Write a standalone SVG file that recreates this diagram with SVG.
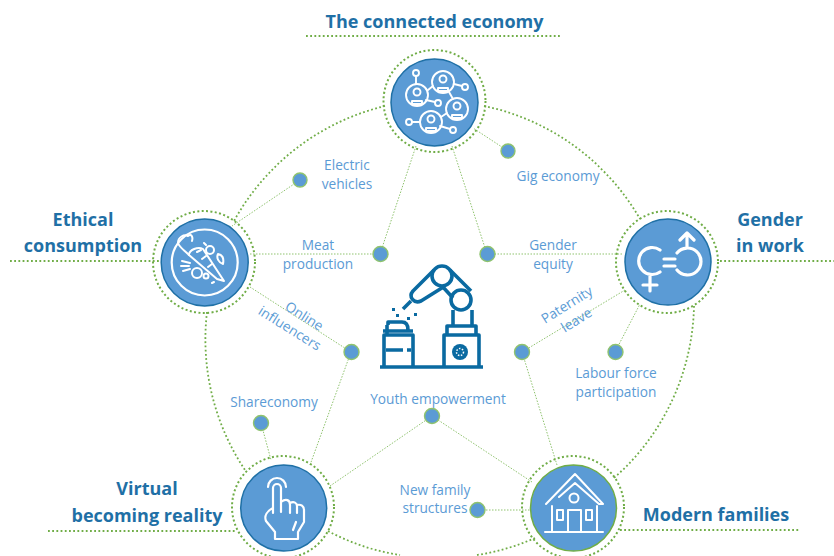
<svg xmlns="http://www.w3.org/2000/svg" width="834" height="556" viewBox="0 0 834 556">
<style>
.t{font-family:"Open Sans",Lato,sans-serif;font-weight:700;font-size:18px;fill:#1f70a6;text-anchor:middle}
.l{font-family:"Open Sans",Lato,sans-serif;font-size:13.700px;fill:#5b9bd5;text-anchor:middle}
.c{fill:none;stroke:#8fc36e;stroke-width:1;stroke-dasharray:1.500 1.500}
.o{fill:none;stroke:#70ad47;stroke-width:1.800;stroke-dasharray:1.800 2.400}
.ring{fill:none;stroke:#70ad47;stroke-width:2;stroke-dasharray:2 2.400}
.b{fill:#5b9bd5;stroke:#1f70a6;stroke-width:1.500}
.d{fill:#5b9bd5;stroke:#8fc36e;stroke-width:1.400}
.i{fill:none;stroke:#fff;stroke-linecap:round;stroke-linejoin:round}
.r{fill:none;stroke:#0a6aa1;stroke-width:3.600;stroke-linejoin:round}
</style>
<g id="connectors">
<path class="o" d="M306 36H562M10 261H160M720 261H834M48 531H235M620 530H800"/>
<path class="o" d="M385 106A235 235 0 0 0 234 221M484 106A235 235 0 0 1 640 219M207 312A235 235 0 0 0 245 470M694 306A235 235 0 0 1 614 478M328 531A224 224 0 0 0 400 555M477 555A224 224 0 0 0 535 538"/>
<path class="c" d="M416 146L380 254M452 146L487 254M250 254H380M622 254H487M250 287L351 352M625 290L522 352M310 465L351 352M557 465L522 352M330 486L432 416M532 482L432 416M300 180L232 226M508 151L473 128M261 423L271 460M615 352L640 304M477 510H530"/>
</g>
<g id="node-economy">
<circle class="ring" cx="434.500" cy="101" r="51"/><circle class="b" cx="434.500" cy="102.500" r="43.500"/>
<g class="i" style="stroke-width:1.900">
<circle cx="417" cy="95" r="11"/><circle cx="443" cy="82" r="11"/><circle cx="457" cy="109" r="11"/><circle cx="431" cy="122" r="11"/>
<circle cx="417" cy="92" r="3.500"/><circle cx="443" cy="79" r="3.500"/><circle cx="457" cy="106" r="3.500"/><circle cx="431" cy="119" r="3.500"/>
<path d="M412 101h10v3h-10zM438 88h10v3h-10zM452 115h10v3h-10zM426 128h10v3h-10z"/>
<circle cx="416" cy="73" r="3"/><circle cx="465" cy="87" r="3"/><circle cx="438" cy="103" r="3"/><circle cx="409" cy="122" r="3"/><circle cx="453" cy="130" r="3"/>
<path d="M416 76V84M454 84L462 86M426 100L435 102M412 122H420M440 126L450 129M428 90L433 86M449 92L453 99M441 117L447 113"/>
</g></g>
<g id="node-ethical">
<circle class="ring" cx="204" cy="262" r="51"/><circle class="b" cx="204.700" cy="262.500" r="43.500"/>
<circle class="i" style="stroke-width:2.200" cx="204.700" cy="262.500" r="33"/>
<g class="i" style="stroke-width:2"><path d="M189 255C189 250 198 246 203 249L224 281L217 279Z"/><path d="M189 255C184 250 180 248 178 243C178 237 184 234 188 236C192 233 193 238 192 241"/><path d="M197 252L201 250M202 259L206 256M208 267L212 264"/><circle cx="210" cy="250" r="4"/><circle cx="197" cy="273" r="5"/><circle cx="206" cy="276" r="2.500"/><path d="M218 254c5 1 6 5 5 10c-4-1-7-6-5-10ZM182 261l8 2M181 266l8 0M183 271l7-2M204 243l2 2M212 283l2-1"/></g>
</g>
<g id="node-gender">
<circle class="ring" cx="667" cy="262" r="51"/><circle class="b" cx="668" cy="262" r="43"/>
<g class="i" style="stroke-width:3.200"><path d="M660 250A13.500 13.500 0 1 0 660 272M650 275V291M643 285H657M664 259H675M664 266H675M677 253A13.500 13.500 0 1 1 677 270M687 248V234M680 240L687 233L694 240"/></g>
</g>
<g id="node-virtual">
<circle class="ring" cx="283" cy="507" r="51"/><circle class="b" cx="283.700" cy="508" r="43"/>
<g class="i" style="stroke-width:2.200"><path d="M268 487A9 9 0 0 1 286 487M273 513V488A4 4 0 0 1 281 488V512M281 502C286 498 290 500 290 505V513M290 503C294 501 297 503 297 506V513M297 505C301 504 304 506 304 510V522L298 532V539H275V532L266 521C264 516 267 511 273 508"/><path d="M296 522L293 530"/></g>
</g>
<g id="node-families">
<circle class="ring" cx="573" cy="507" r="51"/><circle class="b" style="stroke:#70ad47" cx="573.500" cy="508" r="43"/>
<g class="i" style="stroke-width:2"><path d="M546 504L575 474L603 504H599L575 483L559 497M552 506V532M597 506V532M545 532H603M568 532V510H581V532"/><circle cx="574" cy="498" r="4.500"/><path d="M557 510H563V520H557ZM586 510H592V520H586Z"/></g>
</g>
<g id="node-robot">
<g class="r"><path d="M380 367H483M384 367V335H413V367M387 335V325M383 331H413M388 325V322H402C406 322 408 325 408 330M386 350H403M407 350H411"/><path d="M444 367V335H479V367"/><path d="M447 335V326H476V335M453 326V310M472 326V310"/><circle cx="461" cy="300" r="10"/><circle cx="442" cy="276" r="10"/><path d="M450 270L471 291M442 286L453 298M434 270L413 291C408 297 414 304 421 301L445 286M411 301L403 309"/></g>
<circle cx="460" cy="352" r="8" fill="#0a6aa1"/><circle cx="460" cy="352" r="3.500" fill="none" stroke="#fff" stroke-width="1.500" stroke-dasharray="1.500 1.500"/>
<path d="M392 308h3v3h-3zM396 314h3v3h-3zM407 317h3v3h-3zM414 313h3v3h-3z" fill="#0a6aa1"/>
</g>
<g id="node-dots">
<circle class="d" cx="300" cy="180" r="7"/><circle class="d" cx="508" cy="151" r="7"/><circle class="d" cx="380.500" cy="254" r="7.500"/><circle class="d" cx="487.500" cy="254" r="7.500"/><circle class="d" cx="351.500" cy="352" r="7.500"/><circle class="d" cx="522" cy="352" r="7.500"/><circle class="d" cx="615.500" cy="352" r="7.500"/><circle class="d" cx="432" cy="416" r="7.500"/><circle class="d" cx="261" cy="423" r="7.500"/><circle class="d" cx="477.500" cy="510" r="7.500"/>
</g>
<g id="labels">
<text class="t" x="434.500" y="28">The connected economy</text>
<text class="t" x="83" y="226">Ethical</text><text class="t" x="83" y="252">consumption</text>
<text class="t" x="770" y="226">Gender</text><text class="t" x="770" y="252">in work</text>
<text class="t" x="147" y="495">Virtual</text><text class="t" x="147" y="522">becoming reality</text>
<text class="t" x="716" y="521">Modern families</text>
<text class="l" x="347" y="170">Electric</text><text class="l" x="347" y="189">vehicles</text>
<text class="l" x="558" y="181">Gig economy</text>
<text class="l" x="318" y="250">Meat</text><text class="l" x="318" y="269">production</text>
<text class="l" x="553" y="250">Gender</text><text class="l" x="553" y="269">equity</text>
<text class="l" transform="translate(293,323) rotate(32)"><tspan x="6" y="-7">Online</tspan><tspan x="0" y="11">influencers</tspan></text>
<text class="l" transform="translate(572,313) rotate(-32)"><tspan x="0" y="-5">Paternity</tspan><tspan x="0" y="13">leave</tspan></text>
<text class="l" x="616" y="378">Labour force</text><text class="l" x="616" y="397">participation</text>
<text class="l" x="274" y="407">Shareconomy</text>
<text class="l" x="438" y="404">Youth empowerment</text>
<text class="l" x="435" y="495">New family</text><text class="l" x="435" y="513">structures</text>
</g>
</svg>
